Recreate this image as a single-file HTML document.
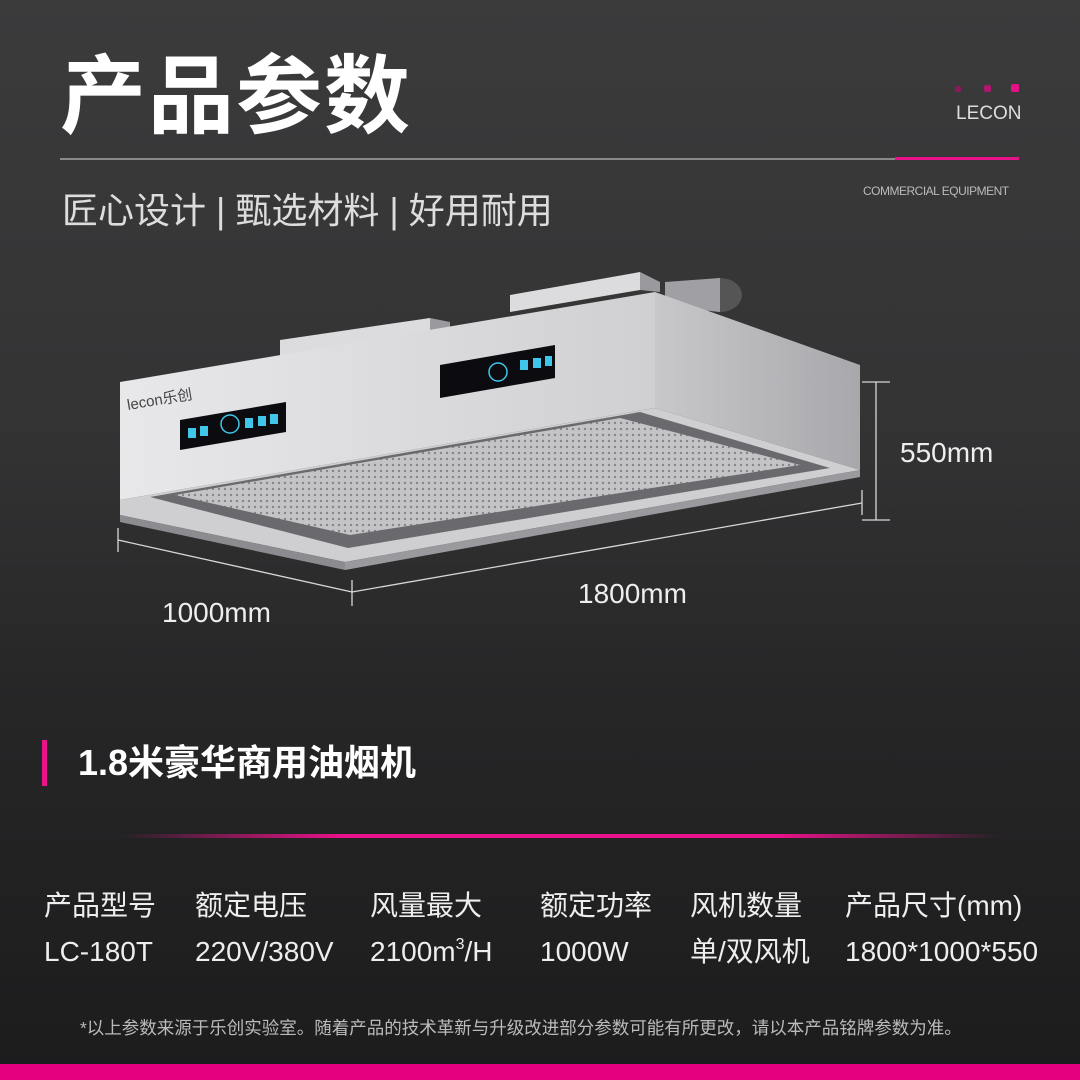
<!DOCTYPE html>
<html><head><meta charset="utf-8"><style>
html,body{margin:0;padding:0}
body{width:1080px;height:1080px;position:relative;overflow:hidden;background:linear-gradient(180deg,#3b3b3c 0%,#333334 40%,#262627 65%,#1c1c1d 100%);font-family:"Liberation Sans","Noto Sans CJK SC",sans-serif;color:#fff}
.a{position:absolute;white-space:nowrap}
sup{font-size:16px;line-height:0;vertical-align:0;position:relative;top:-12px}
</style></head><body>
<div class="a" style="left:60px;top:34px;font-size:86px;font-weight:bold;letter-spacing:2px;line-height:110px;font-family:'Noto Sans CJK SC',sans-serif">产品参数</div>
<div class="a" style="left:60px;top:158px;width:840px;height:2px;background:#8a8a8a"></div>
<div class="a" style="left:895px;top:157px;width:124px;height:3px;background:#e8128a"></div>
<div class="a" style="left:955px;top:86px;width:6px;height:6px;background:#8a1a5a;border-radius:2px"></div>
<div class="a" style="left:984px;top:85px;width:7px;height:7px;background:#b0156f;border-radius:2px"></div>
<div class="a" style="left:1011px;top:84px;width:8px;height:8px;background:#e8108a;border-radius:2px"></div>
<div class="a" style="left:956px;top:103px;font-size:19px;color:#ddd">LECON</div>
<div class="a" style="left:863px;top:184px;font-size:12px;color:#bbb;letter-spacing:-0.5px">COMMERCIAL EQUIPMENT</div>
<div class="a" style="left:62px;top:182px;font-size:36px;color:#ddd">匠心设计 | 甄选材料 | 好用耐用</div>

<svg class="a" style="left:0;top:0" width="1080" height="700">
<defs>
<linearGradient id="fr" x1="0" y1="0" x2="1" y2="0"><stop offset="0" stop-color="#e8e8ea"/><stop offset="1" stop-color="#d0d0d3"/></linearGradient>
<linearGradient id="sd" x1="0" y1="0" x2="1" y2="0"><stop offset="0" stop-color="#c8c8cb"/><stop offset="1" stop-color="#a8a8ac"/></linearGradient>
<pattern id="pf" width="6" height="6" patternUnits="userSpaceOnUse"><rect width="6" height="6" fill="#c4c4c7"/><circle cx="3" cy="3" r="1.2" fill="#85858a"/></pattern>
</defs>
<polygon points="280,340 430,318 430,335 280,362" fill="#dcdcde"/>
<polygon points="510,295 640,272 640,290 510,312" fill="#dcdcde"/>
<polygon points="430,318 450,322 450,334 430,335" fill="#9a9a9e"/>
<polygon points="640,272 660,282 660,292 640,290" fill="#9a9a9e"/>
<ellipse cx="720" cy="295" rx="22" ry="17" fill="#555"/>
<polygon points="665,282 720,278 720,312 665,306" fill="#a0a0a4"/>
<polygon points="120,382 655,292 655,408 120,500" fill="url(#fr)"/>
<polygon points="655,292 860,365 860,470 655,408" fill="url(#sd)"/>
<polygon points="120,500 655,408 860,470 345,562 120,515" fill="#cfcfd2"/>
<polygon points="150,497 640,412 830,468 348,548" fill="#6a6a6e"/>
<polygon points="175,495 620,418 800,465 350,535" fill="url(#pf)"/>
<polygon points="120,515 345,562 345,570 120,522" fill="#8c8c90"/>
<polygon points="345,562 860,470 860,477 345,570" fill="#9a9a9e"/>
<polygon points="180,420 286,402 286,432 180,450" fill="#0c0c10"/>
<polygon points="440,365 555,345 555,378 440,398" fill="#0c0c10"/>
<g fill="#3fc6e8"><rect x="188" y="428" width="8" height="10"/><rect x="200" y="426" width="8" height="10"/><rect x="245" y="418" width="8" height="10"/><rect x="258" y="416" width="8" height="10"/><rect x="270" y="414" width="8" height="10"/>
<rect x="520" y="360" width="8" height="10"/><rect x="533" y="358" width="8" height="10"/><rect x="545" y="356" width="7" height="10"/></g>
<circle cx="230" cy="424" r="9" fill="none" stroke="#3fc6e8" stroke-width="1.5"/>
<circle cx="498" cy="372" r="9" fill="none" stroke="#3fc6e8" stroke-width="1.5"/>
<text x="128" y="410" font-size="15" fill="#444" font-family="Liberation Sans" transform="rotate(-9.6 128 410)">lecon乐创</text>
<g stroke="#d8d8d8" stroke-width="1.3" fill="none">
<line x1="876" y1="382" x2="876" y2="520"/><line x1="862" y1="382" x2="890" y2="382"/><line x1="862" y1="520" x2="890" y2="520"/>
<line x1="118" y1="540" x2="352" y2="592"/><line x1="118" y1="528" x2="118" y2="552"/><line x1="352" y1="580" x2="352" y2="606"/>
<line x1="352" y1="592" x2="862" y2="503"/><line x1="862" y1="490" x2="862" y2="515"/>
</g>
</svg>
<div class="a" style="left:900px;top:437px;font-size:28px;color:#eee">550mm</div>
<div class="a" style="left:578px;top:578px;font-size:28px;color:#eee">1800mm</div>
<div class="a" style="left:162px;top:597px;font-size:28px;color:#eee">1000mm</div>

<div class="a" style="left:42px;top:740px;width:5px;height:46px;background:#e8128a"></div>
<div class="a" style="left:78px;top:740px;font-size:36px;font-weight:bold;line-height:46px">1.8米豪华商用油烟机</div>
<div class="a" style="left:120px;top:834px;width:880px;height:4px;background:linear-gradient(90deg,rgba(232,18,138,0),#e8128a 25%,#e8128a 75%,rgba(232,18,138,0))"></div>
<div class="a" style="top:886px;font-size:28px;color:#eee;line-height:40px;left:0;width:1080px">
<span class="a" style="left:44px">产品型号</span><span class="a" style="left:195px">额定电压</span><span class="a" style="left:370px">风量最大</span><span class="a" style="left:540px">额定功率</span><span class="a" style="left:690px">风机数量</span><span class="a" style="left:845px">产品尺寸(mm)</span>
</div>
<div class="a" style="top:932px;font-size:28px;color:#eee;line-height:40px;left:0;width:1080px">
<span class="a" style="left:44px">LC-180T</span><span class="a" style="left:195px">220V/380V</span><span class="a" style="left:370px">2100m<sup>3</sup>/H</span><span class="a" style="left:540px">1000W</span><span class="a" style="left:690px">单/双风机</span><span class="a" style="left:845px">1800*1000*550</span>
</div>
<div class="a" style="left:80px;top:1015px;font-size:17.5px;color:#bbb">*以上参数来源于乐创实验室。随着产品的技术革新与升级改进部分参数可能有所更改，请以本产品铭牌参数为准。</div>
<div class="a" style="left:0;top:1064px;width:1080px;height:16px;background:#e5007f"></div>
</body></html>
